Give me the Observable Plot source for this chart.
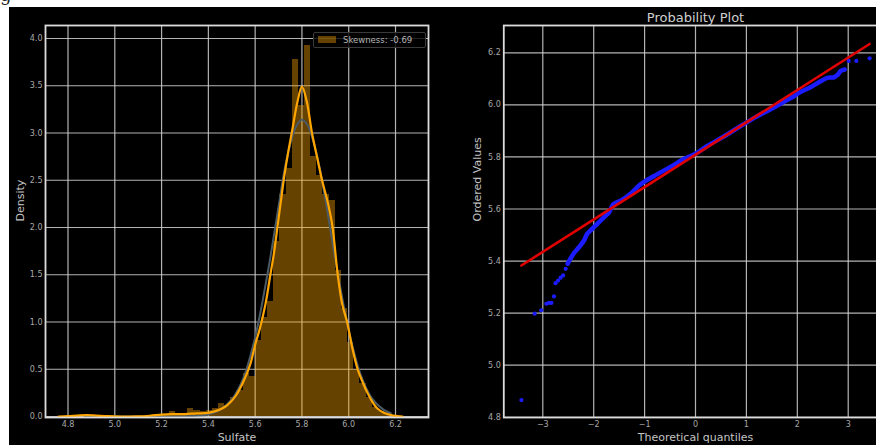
<!DOCTYPE html>
<html><head><meta charset="utf-8">
<script src="https://cdn.jsdelivr.net/npm/d3@7"></script>
<script src="https://cdn.jsdelivr.net/npm/@observablehq/plot@0.6"></script>
<style>
html,body{margin:0;padding:0;background:#fff;width:876px;height:445px;overflow:hidden;font-family:"DejaVu Sans",sans-serif}
#topText{position:absolute;left:0;top:0;width:200px;height:7px;overflow:hidden}
#topText span{position:absolute;left:0;top:-16px;font:18px "DejaVu Serif",serif;color:#222}
#bg{position:absolute;left:9px;top:7px;width:867px;height:438px;background:#000}
#left{position:absolute;left:9px;top:7px;width:431px;height:438px}
#right{position:absolute;left:440px;top:7px;width:436px;height:438px;overflow:hidden}
#legend{position:absolute;left:313px;top:32px;width:111px;height:14px;border:1px solid #3a3a3a;border-radius:2px;background:rgba(0,0,0,0.8)}
#legend .patch{position:absolute;left:4px;top:3px;width:18px;height:7px;background:rgba(255,165,0,0.4)}
#legend .lab{position:absolute;left:29px;top:1px;font-size:8.5px;line-height:12px;color:#b4b4b4;white-space:nowrap}
</style></head>
<body>
<div id="topText"><span>g</span></div>
<div id="bg"></div>
<div id="left"></div>
<div id="right"></div>
<div id="legend"><div class="patch"></div><div class="lab"></div></div>
<script>
// ---------- Left panel: histogram + KDE + normal fit ----------
const skewLabel = "Skewness: -0.69";
const xTicksL = [4.8, 5.0, 5.2, 5.4, 5.6, 5.8, 6.0, 6.2];
const yTicksL = [0, 0.5, 1.0, 1.5, 2.0, 2.5, 3.0, 3.5, 4.0];
const binStart = 4.865;
const binWidth = 0.02628;
const binHeights = [
  0.015, 0.015, 0, 0, 0, 0, 0, 0, 0, 0,
  0, 0, 0.015, 0.015, 0.05, 0.015, 0.015, 0.08, 0.06, 0.05,
  0.06, 0.08, 0.14, 0.12, 0.2, 0.28, 0.45, 0.42, 0.8, 1.05,
  1.22, 1.85, 2.35, 2.62, 3.78, 3.29, 3.93, 2.75, 2.55, 2.35,
  2.29, 1.55, 1.14, 0.78, 0.5, 0.35, 0.2, 0.09, 0.05, 0.03
];
const kdeX = [4.76, 4.80, 4.84, 4.88, 4.92, 4.97, 5.03, 5.10, 5.15, 5.20, 5.25, 5.30, 5.35, 5.40, 5.44, 5.47, 5.49, 5.52, 5.55, 5.58, 5.60, 5.62, 5.645, 5.665, 5.68, 5.695, 5.71, 5.725, 5.74, 5.76, 5.78, 5.80, 5.82, 5.843, 5.865, 5.886, 5.91, 5.93, 5.953, 5.972, 5.993, 6.015, 6.038, 6.06, 6.08, 6.10, 6.12, 6.15, 6.19, 6.23];
const kdeY = [0, 0.003, 0.01, 0.015, 0.01, 0.003, 0, 0.001, 0.008, 0.02, 0.025, 0.025, 0.033, 0.038, 0.065, 0.10, 0.14, 0.23, 0.37, 0.56, 0.76, 0.93, 1.2, 1.5, 1.72, 2.0, 2.28, 2.55, 2.78, 3.05, 3.32, 3.49, 3.34, 3.0, 2.74, 2.5, 2.27, 2.02, 1.5, 1.19, 1.0, 0.73, 0.5, 0.36, 0.25, 0.16, 0.09, 0.04, 0.01, 0];
const fitX = [4.87, 5.0, 5.1, 5.2, 5.3, 5.35, 5.4, 5.45, 5.5, 5.55, 5.6, 5.65, 5.7, 5.725, 5.75, 5.775, 5.8, 5.825, 5.85, 5.875, 5.9, 5.95, 6.0, 6.05, 6.1, 6.15, 6.18];
const fitY = [0, 0, 0, 0, 0.003, 0.008, 0.022, 0.07, 0.18, 0.41, 0.84, 1.47, 2.22, 2.60, 2.88, 3.07, 3.14, 3.08, 2.90, 2.64, 2.30, 1.56, 0.91, 0.45, 0.19, 0.07, 0.035];

// ---------- Right panel: probability plot ----------
const xTicksR = [-3, -2, -1, 0, 1, 2, 3];
const yTicksR = [4.8, 5.0, 5.2, 5.4, 5.6, 5.8, 6.0, 6.2];
const qqTheo = [-3.42, -3.16, -3.03, -2.93, -2.88, -2.83, -2.78, -2.75, -2.70, -2.65, -2.60, -2.55,
  -2.51, -2.46, -2.39, -2.29, -2.19, -2.13, -2.03, -1.93, -1.80, -1.70, -1.62, -1.47, -1.28, -1.08, -0.82, -0.49, -0.23, 0, 0.23, 0.56, 0.88, 1.21, 1.54, 1.87, 2.06, 2.26, 2.46, 2.59, 2.72, 2.80, 2.85, 2.93,
  3.01, 3.16, 3.42];
const qqOrdered = [4.866, 5.198, 5.211, 5.236, 5.239, 5.239, 5.264, 5.315, 5.325, 5.336, 5.345, 5.37,
  5.39, 5.408, 5.43, 5.453, 5.479, 5.504, 5.524, 5.543, 5.568, 5.587, 5.617, 5.632, 5.658, 5.695, 5.726, 5.762, 5.792, 5.812, 5.842, 5.879, 5.918, 5.956, 5.99, 6.026, 6.049, 6.068, 6.091, 6.104, 6.106, 6.117, 6.13, 6.136,
  6.169, 6.169, 6.179];
const denseFrom = 12, denseTo = 43; // indices of the continuous band
const fitLineX = [-3.42, 3.42];
const fitLineY = [5.383, 6.234];

// ---------- build tables ----------
const bins = binHeights.map((h, i) => ({x1: binStart + i * binWidth, x2: binStart + (i + 1) * binWidth, y: h}));
const kde = kdeX.map((x, i) => ({x, y: kdeY[i]}));
const fit = fitX.map((x, i) => ({x, y: fitY[i]}));
const qq = qqTheo.map((x, i) => ({x, y: qqOrdered[i]}));
const qqDense = qq.slice(denseFrom, denseTo + 1);
const refLine = fitLineX.map((x, i) => ({x, y: fitLineY[i]}));

const gridStyle = {stroke: "#d2d2d2", strokeOpacity: 0.85, strokeWidth: 1.2};
const frameStyle = {stroke: "#dcdcdc", strokeWidth: 1.8};
const baseStyle = {fontFamily: "DejaVu Sans", fontSize: "8px", color: "#a8a8a8", background: "transparent", maxWidth: "none", overflow: "visible"};
const labelStyle = {fontSize: 11, fill: "#c4c4c4", lineAnchor: "middle"};

const left = Plot.plot({
  width: 431, height: 438,
  marginLeft: 36, marginRight: 12, marginTop: 18, marginBottom: 28,
  style: baseStyle,
  x: {domain: [4.7038, 6.341], ticks: xTicksL, tickFormat: d => d.toFixed(1), tickSize: 0, tickPadding: 4, label: null},
  y: {domain: [-0.0106, 4.1376], ticks: yTicksL, tickFormat: d => d.toFixed(1), tickSize: 0, tickPadding: 3, label: null},
  marks: [
    Plot.gridX(xTicksL, gridStyle),
    Plot.gridY(yTicksL, gridStyle),
    Plot.rectY(bins, {x1: "x1", x2: "x2", y: "y", fill: "#ffa500", fillOpacity: 0.4, shapeRendering: "crispEdges"}),
    Plot.line(fit, {x: "x", y: "y", stroke: "#4b5b66", strokeWidth: 2, curve: "catmull-rom"}),
    Plot.line(kde, {x: "x", y: "y", stroke: "#ffa500", strokeWidth: 2.2, curve: "catmull-rom"}),
    Plot.frame(frameStyle),
    Plot.text(["Sulfate"], {frameAnchor: "bottom", dy: 20, ...labelStyle}),
    Plot.text(["Density"], {frameAnchor: "left", dx: -25, rotate: -90, ...labelStyle})
  ]
});
document.getElementById("left").appendChild(left);
document.querySelector("#legend .lab").textContent = skewLabel;

const minusFmt = d => d < 0 ? "\u2212" + Math.abs(d) : String(d);
const right = Plot.plot({
  width: 450, height: 438,
  marginLeft: 63.3, marginRight: 3.3, marginTop: 18, marginBottom: 28,
  style: baseStyle,
  x: {domain: [-3.766, 3.766], ticks: xTicksR, tickFormat: minusFmt, tickSize: 0, tickPadding: 4, label: null},
  y: {domain: [4.799, 6.305], ticks: yTicksR, tickFormat: d => d.toFixed(1), tickSize: 0, tickPadding: 3, label: null},
  marks: [
    Plot.gridX(xTicksR, gridStyle),
    Plot.gridY(yTicksR, gridStyle),
    Plot.frame(frameStyle),
    Plot.line(qqDense, {x: "x", y: "y", stroke: "#1c1cff", strokeWidth: 4.5, curve: "catmull-rom"}),
    Plot.dot(qq, {x: "x", y: "y", r: 2.1, fill: "#1c1cff", stroke: "none"}),
    Plot.line(refLine, {x: "x", y: "y", stroke: "#e00000", strokeWidth: 2.6}),
    Plot.text(["Probability Plot"], {frameAnchor: "top", dy: -8, ...labelStyle, fontSize: 13, fill: "#d0d0d0"}),
    Plot.text(["Theoretical quantiles"], {frameAnchor: "bottom", dy: 20, ...labelStyle}),
    Plot.text(["Ordered Values"], {frameAnchor: "left", dx: -26, rotate: -90, ...labelStyle})
  ]
});
document.getElementById("right").appendChild(right);
</script>
</body></html>
